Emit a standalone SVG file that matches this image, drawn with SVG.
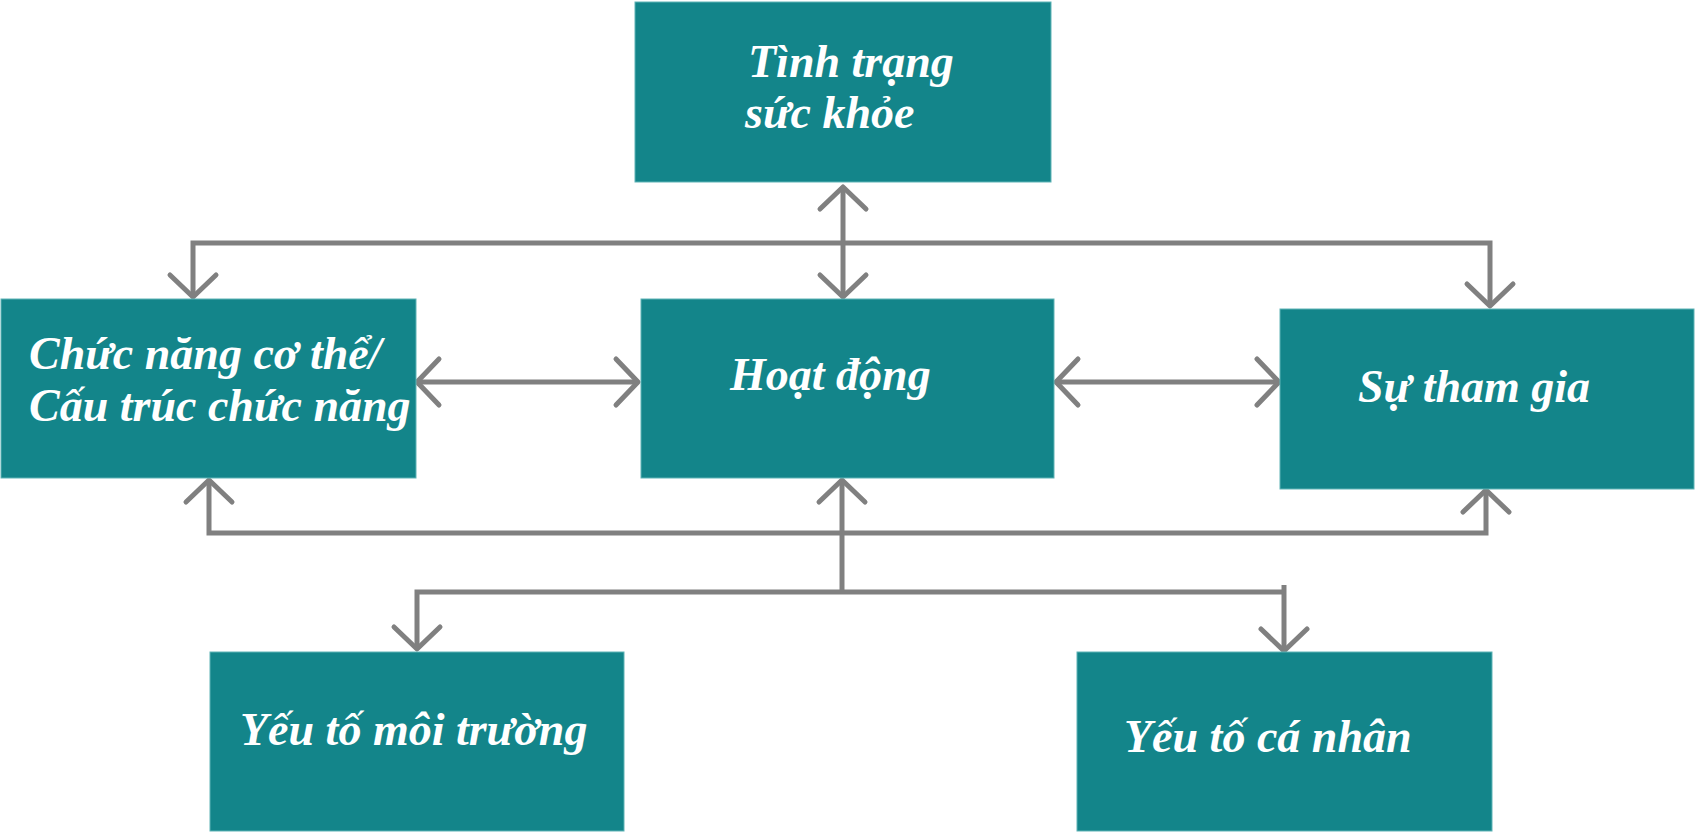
<svg xmlns="http://www.w3.org/2000/svg" width="1696" height="832" viewBox="0 0 1696 832">
<style>
.box{fill:#13858a;stroke:#5fb3b6;stroke-width:1}
.t{font-family:"Liberation Serif","Times New Roman",serif;font-weight:bold;font-style:italic;font-size:46px;fill:#ffffff}
.c{fill:none;stroke:#808080;stroke-width:5;stroke-linejoin:miter}
</style>
<defs>
<marker id="ah" markerUnits="userSpaceOnUse" markerWidth="60" markerHeight="60" viewBox="-30 -30 60 60" refX="0" refY="0" orient="auto-start-reverse" overflow="visible">
<path d="M -22 -23 L 0 0 L -22 23" fill="none" stroke="#808080" stroke-width="5" stroke-linecap="round" stroke-linejoin="round"/>
</marker>
</defs>
<rect width="1696" height="832" fill="#ffffff"/>
<g id="connectors">
<path class="c" d="M 843 187 L 843 297" marker-start="url(#ah)" marker-end="url(#ah)"/>
<path class="c" d="M 193 297 L 193 243 L 1490 243 L 1490 306" marker-start="url(#ah)" marker-end="url(#ah)"/>
<path class="c" d="M 417 382 L 638 382" marker-start="url(#ah)" marker-end="url(#ah)"/>
<path class="c" d="M 1056 382 L 1279 382" marker-start="url(#ah)" marker-end="url(#ah)"/>
<path class="c" d="M 209 480 L 209 533 L 1486 533 L 1486 490" marker-start="url(#ah)" marker-end="url(#ah)"/>
<path class="c" d="M 842 480 L 842 592" marker-start="url(#ah)"/>
<path class="c" d="M 417 649 L 417 592 L 1284 592" marker-start="url(#ah)"/>
<path class="c" d="M 1284 585 L 1284 651" marker-end="url(#ah)"/>
</g>
<g id="node-health">
<rect class="box" x="635" y="2" width="416" height="180"/>
<text class="t" x="748" y="77">Tình trạng</text>
<text class="t" x="745" y="128">sức khỏe</text>
</g>
<g id="node-body">
<rect class="box" x="1" y="299" width="415" height="179"/>
<text class="t" x="29" y="369">Chức năng cơ thể/</text>
<text class="t" x="29" y="421">Cấu trúc chức năng</text>
</g>
<g id="node-activity">
<rect class="box" x="641" y="299" width="413" height="179"/>
<text class="t" x="730" y="390">Hoạt động</text>
</g>
<g id="node-participation">
<rect class="box" x="1280" y="309" width="414" height="180"/>
<text class="t" x="1358" y="402">Sự tham gia</text>
</g>
<g id="node-environment">
<rect class="box" x="210" y="652" width="414" height="179"/>
<text class="t" x="240" y="745">Yếu tố môi trường</text>
</g>
<g id="node-personal">
<rect class="box" x="1077" y="652" width="415" height="179"/>
<text class="t" x="1124" y="752">Yếu tố cá nhân</text>
</g>
</svg>
